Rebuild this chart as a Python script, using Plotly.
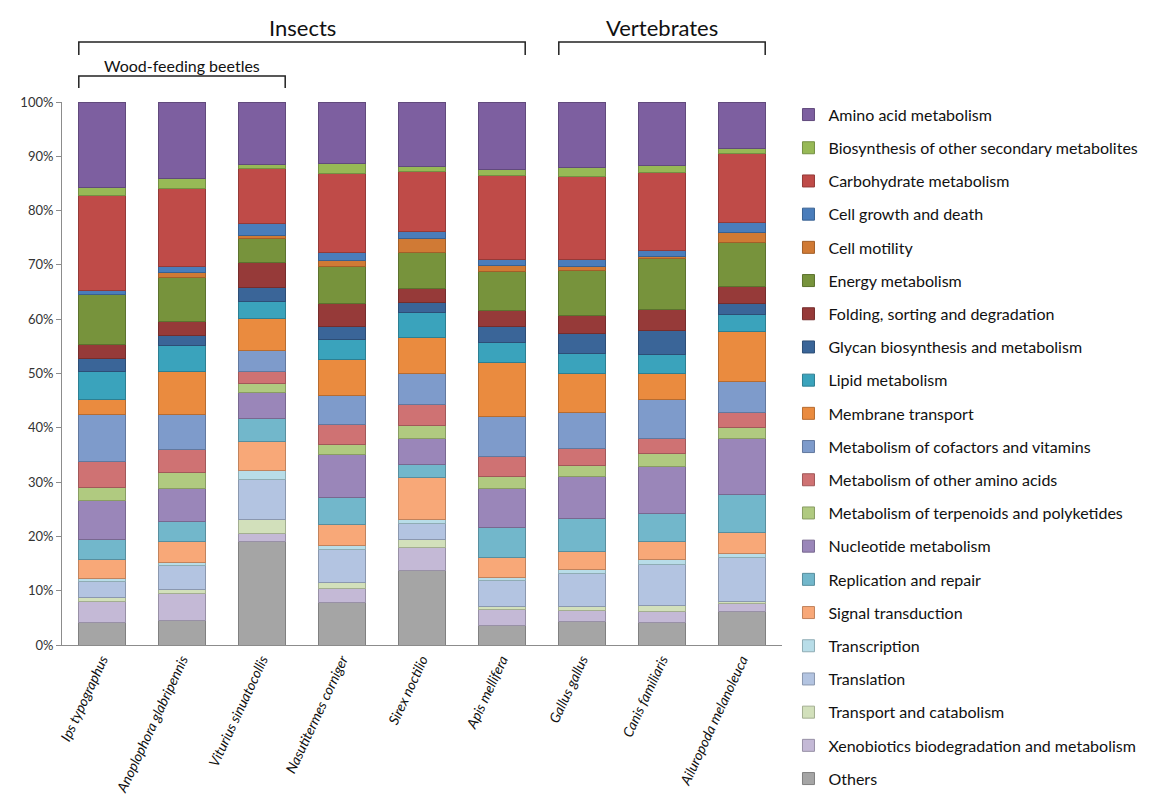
import plotly.graph_objects as go

# Species on the x axis (insects first, then vertebrates)
species = [
    "Ips typographus", "Anoplophora glabripennis", "Viturius sinuatocollis",
    "Nasutitermes corniger", "Sirex noctilio", "Apis mellifera",
    "Gallus gallus", "Canis familiaris", "Ailuropoda melanoleuca",
]

# KEGG categories, bottom of the stack first
categories = [
    "Others",
    "Xenobiotics biodegradation and metabolism",
    "Transport and catabolism",
    "Translation",
    "Transcription",
    "Signal transduction",
    "Replication and repair",
    "Nucleotide metabolism",
    "Metabolism of terpenoids and polyketides",
    "Metabolism of other amino acids",
    "Metabolism of cofactors and vitamins",
    "Membrane transport",
    "Lipid metabolism",
    "Glycan biosynthesis and metabolism",
    "Folding, sorting and degradation",
    "Energy metabolism",
    "Cell motility",
    "Cell growth and death",
    "Carbohydrate metabolism",
    "Biosynthesis of other secondary metabolites",
    "Amino acid metabolism",
]

# Percentage of annotated genes per category, one list per species (same order as categories)
ips_typographus = [4.2, 3.8, 0.8, 2.9, 0.5, 3.5, 3.8, 7.2, 2.3, 4.8, 8.7, 2.7, 5.1, 2.5, 2.5, 9.2, 0.1, 0.7, 17.4, 1.5, 15.8]
anoplophora_glabripennis = [4.6, 4.9, 0.8, 4.4, 0.5, 3.8, 3.7, 6.2, 2.8, 4.3, 6.4, 8.0, 4.7, 1.9, 2.5, 8.1, 1.0, 1.1, 14.4, 1.8, 14.1]
viturius_sinuatocollis = [19.0, 1.5, 2.6, 7.4, 1.7, 5.2, 4.3, 4.8, 1.7, 2.1, 4.0, 5.9, 3.0, 2.6, 4.6, 4.5, 0.6, 2.2, 10.0, 0.7, 11.6]
nasutitermes_corniger = [7.9, 2.5, 1.1, 6.0, 0.8, 3.9, 4.9, 7.9, 2.0, 3.6, 5.3, 6.6, 3.7, 2.4, 4.3, 6.8, 1.1, 1.5, 14.6, 1.7, 11.4]
sirex_noctilio = [13.7, 4.2, 1.5, 2.9, 0.8, 7.7, 2.5, 4.7, 2.5, 3.7, 5.8, 6.6, 4.7, 1.7, 2.7, 6.5, 2.6, 1.3, 11.1, 1.0, 11.8]
apis_mellifera = [3.6, 2.9, 0.5, 4.8, 0.7, 3.6, 5.5, 7.3, 2.2, 3.7, 7.3, 10.0, 3.6, 2.9, 3.0, 7.1, 1.1, 1.2, 15.4, 1.2, 12.4]
gallus_gallus = [4.4, 1.9, 0.7, 6.2, 0.7, 3.4, 6.0, 7.7, 2.0, 3.2, 6.6, 7.2, 3.6, 3.7, 3.3, 8.4, 0.7, 1.3, 15.3, 1.7, 12.0]
canis_familiaris = [4.1, 2.1, 1.0, 7.7, 0.9, 3.2, 5.3, 8.5, 2.5, 2.7, 7.2, 4.8, 3.5, 4.5, 3.8, 9.3, 0.5, 1.0, 14.5, 1.2, 11.7]
ailuropoda_melanoleuca = [6.1, 1.5, 0.5, 8.0, 0.7, 4.0, 6.9, 10.3, 2.0, 2.8, 5.8, 9.2, 3.0, 2.1, 3.1, 8.1, 1.9, 1.9, 12.7, 0.8, 8.6]

species_values = [
    ips_typographus, anoplophora_glabripennis, viturius_sinuatocollis,
    nasutitermes_corniger, sirex_noctilio, apis_mellifera,
    gallus_gallus, canis_familiaris, ailuropoda_melanoleuca,
]

y_tick_values = [0, 10, 20, 30, 40, 50, 60, 70, 80, 90, 100]

colors = {
    "Others": "#a5a5a5",
    "Xenobiotics biodegradation and metabolism": "#c4b9d6",
    "Transport and catabolism": "#d2e0bb",
    "Translation": "#b3c4e1",
    "Transcription": "#b8dde8",
    "Signal transduction": "#f8a878",
    "Replication and repair": "#72b7cb",
    "Nucleotide metabolism": "#9a86b9",
    "Metabolism of terpenoids and polyketides": "#b0ca80",
    "Metabolism of other amino acids": "#cf7273",
    "Metabolism of cofactors and vitamins": "#7e9bcb",
    "Membrane transport": "#ea8b3f",
    "Lipid metabolism": "#3aa3bc",
    "Glycan biosynthesis and metabolism": "#3a6598",
    "Folding, sorting and degradation": "#963a39",
    "Energy metabolism": "#77933c",
    "Cell motility": "#d07a35",
    "Cell growth and death": "#4a7dbb",
    "Carbohydrate metabolism": "#bf4b48",
    "Biosynthesis of other secondary metabolites": "#97b956",
    "Amino acid metabolism": "#7d5fa0",
}


def darker(hex_color, f=0.78):
    h = hex_color.lstrip("#")
    r, g, b = (int(h[i:i + 2], 16) for i in (0, 2, 4))
    return "rgb({},{},{})".format(int(r * f), int(g * f), int(b * f))


FONT = "Lato, 'Open Sans', sans-serif"

fig = go.Figure()
for ci, cat in enumerate(categories):
    fig.add_trace(go.Bar(
        x=list(range(len(species))),
        y=[vals[ci] for vals in species_values],
        name=cat,
        legendgroup=cat,
        legendrank=len(categories) - ci,  # top of the stack listed first
        width=0.58,
        marker=dict(color=colors[cat], line=dict(color=darker(colors[cat]), width=1)),
    ))

# Group brackets above the bars
half = 0.29
brackets = [
    (0 - half, 5 + half, 1.1105, 1.0866, "Insects", 1.138, 22),
    (6 - half, 8 + half, 1.1105, 1.0866, "Vertebrates", 1.138, 22),
    (0 - half, 2 + half, 1.048, 1.026, "Wood-feeding beetles", 1.067, 16),
]
for x0, x1, ytop, ybot, label, ylab, size in brackets:
    fig.add_shape(type="path", xref="x", yref="paper",
                  path=f"M {x0},{ybot} L {x0},{ytop} L {x1},{ytop} L {x1},{ybot}",
                  line=dict(color="#222222", width=1.5))
    fig.add_annotation(x=(x0 + x1) / 2, y=ylab, xref="x", yref="paper",
                       text=label, showarrow=False, yanchor="middle",
                       font=dict(family=FONT, size=size, color="#111111"))

fig.update_layout(
    barmode="stack",
    width=1152, height=801,
    margin=dict(l=62, r=370, t=102, b=156, autoexpand=False),
    paper_bgcolor="white", plot_bgcolor="white",
    font=dict(family=FONT, size=14, color="#222222"),
    bargap=0.42,
    legend=dict(
        x=1.009, y=1.008, xanchor="left", yanchor="top",
        traceorder="grouped", tracegroupgap=9.4,
        font=dict(family=FONT, size=16, color="#111111"),
        itemwidth=30, maxheight=720,
    ),
    xaxis=dict(
        range=[-0.5, 8.5],
        tickmode="array",
        tickvals=list(range(len(species))),
        ticktext=[f"<i>{s}</i>" for s in species],
        tickangle=-65,
        tickfont=dict(family=FONT, size=14, color="#111111"),
        showline=True, linecolor="#8c8c8c", linewidth=1,
        ticks="", showgrid=False, zeroline=False,
        automargin=False,
    ),
    yaxis=dict(
        range=[0, 100],
        tickmode="array",
        tickvals=y_tick_values,
        ticktext=[f"{v}%" for v in y_tick_values],
        tickfont=dict(family=FONT, size=13, color="#333333"),
        showline=True, linecolor="#8c8c8c", linewidth=1,
        ticks="outside", ticklen=5, tickcolor="#8c8c8c",
        showgrid=False, zeroline=False,
        automargin=False,
    ),
)

fig.write_html("out.html")
